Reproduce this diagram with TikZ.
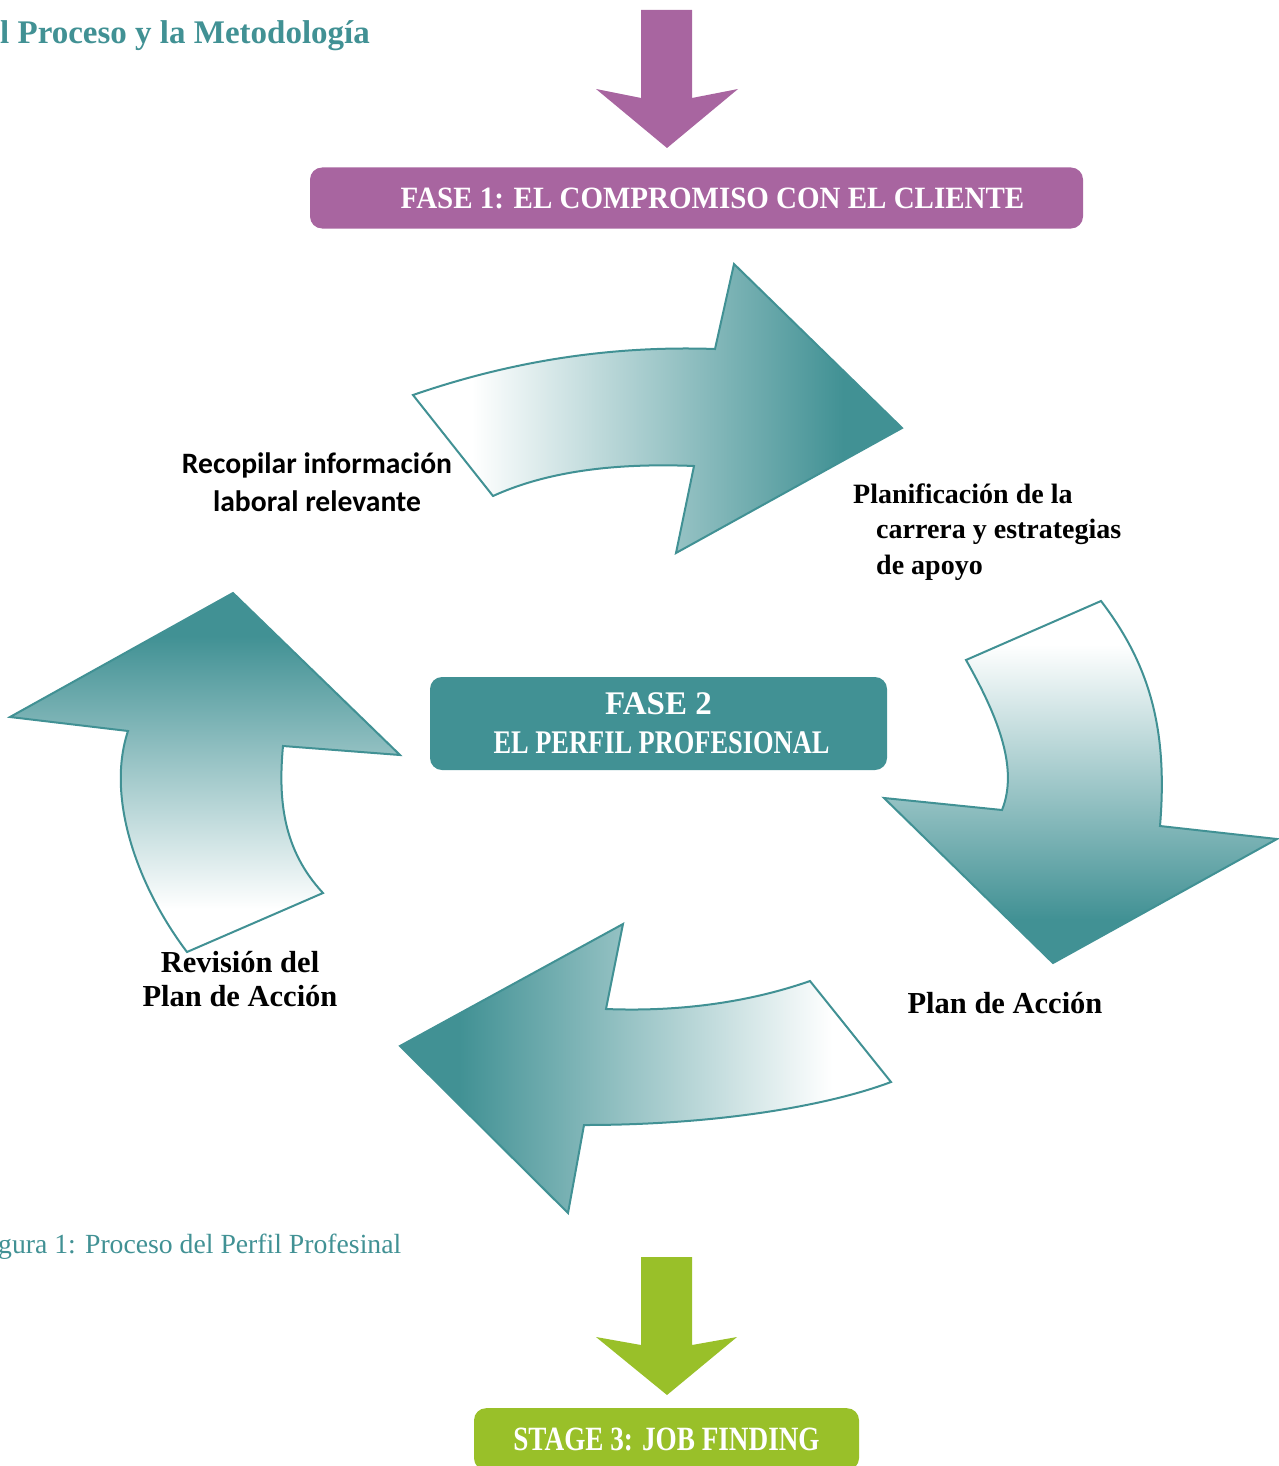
\documentclass[tikz,border=0pt]{standalone}
\usepackage{fontspec}
\setmainfont{Liberation Serif}
\newfontfamily\calibri{Carlito}
\newfontfamily\narrowA[FakeStretch=0.935]{Liberation Serif}
\newfontfamily\narrowB[FakeStretch=0.8]{Liberation Serif}
\usepackage{tikz}
\usetikzlibrary{shapes.geometric}
\definecolor{fasepurple}{RGB}{168,101,160}
\definecolor{faseteal}{RGB}{65,145,148}
\definecolor{fasegreen}{RGB}{153,192,41}
\pgfdeclarehorizontalshading{tealfade}{100bp}{color(0bp)=(white); color(31bp)=(white); color(69bp)=(faseteal); color(100bp)=(faseteal)}

\begin{document}
\begin{tikzpicture}
[x=1pt, y=-1pt,
every node/.style = {align=center, inner sep=0pt}]
\tikzstyle{fasebox} = [rectangle, rounded corners=12pt, text=white, font=\bfseries]
\tikzstyle{cyclearrow} = [draw=faseteal, line width=2pt, shade, shading=tealfade]
\tikzstyle{cyclelabel} = [text=black, font=\fontsize{30.5}{34}\selectfont\bfseries]

\useasboundingbox (0,0) rectangle (1278,1466);

\node[anchor=base west, text=faseteal, font=\fontsize{33}{38}\selectfont\bfseries] (titulo) at (0,44) {l Proceso y la Metodología};

\fill[fasepurple] (641,10) -- (692,10) -- (692,98) -- (738,89) -- (667,148) -- (596,89) -- (641,98) -- cycle;
\node[fasebox, fill=fasepurple, minimum width=773pt, minimum height=61pt, font=\narrowA\fontsize{31}{36}\selectfont\bfseries] (fase1) at (696.5,198) {\hspace*{32pt}FASE 1: EL COMPROMISO CON EL CLIENTE};

\draw[cyclearrow, shading angle=0] (413,395) .. controls (500,365) and (600,345) .. (715,349) -- (734,264) -- (902,428) -- (676,553) -- (694,466) .. controls (620,463) and (550,470) .. (493,496) -- cycle;
\draw[cyclearrow, shading angle=270] (966,660) -- (1101,601) .. controls (1150,665) and (1168,730) .. (1160,826) -- (1277,839) -- (1053,963) -- (884,798) -- (1002,810) .. controls (1018,770) and (1000,720) .. (966,660) -- cycle;
\draw[cyclearrow, shading angle=180] (400,1046) -- (623,924) -- (606,1009) .. controls (680,1012) and (750,1002) .. (810,981) -- (891,1082) .. controls (830,1105) and (720,1125) .. (584,1125) -- (568,1213) -- cycle;
\draw[cyclearrow, shading angle=90] (233,593) -- (400,755) -- (283,746) .. controls (278,800) and (283,850) .. (323,893) -- (187,952) .. controls (140,890) and (105,800) .. (128,731) -- (10,717) -- cycle;

\node[fasebox, fill=faseteal, minimum width=457pt, minimum height=93pt, font=\fontsize{33}{39}\selectfont\bfseries] (fase2) at (658.5,723.5) {FASE 2\\{\narrowB\hspace*{6pt}EL PERFIL PROFESIONAL}};

\node[cyclelabel, font=\calibri\fontsize{29.6}{38.5}\selectfont\bfseries] (recopilar) at (317,482) {Recopilar información\\laboral relevante};
\node[cyclelabel, anchor=west, align=left, font=\fontsize{28}{35.5}\selectfont\bfseries] (planificacion) at (853,532) {Planificación de la\\\hspace*{23pt}carrera y estrategias\\\hspace*{23pt}de apoyo};
\node[cyclelabel] (plan) at (1005,1003.5) {Plan de Acción};
\node[cyclelabel] (revision) at (240,979.5) {Revisión del\\Plan de Acción};

\node[anchor=base west, text=faseteal, font=\fontsize{27.7}{32}\selectfont] (figura) at (-2,1253) {gura 1: Proceso del Perfil Profesinal};

\fill[fasegreen] (641,1257) -- (692,1257) -- (692,1345) -- (737,1337) -- (667,1395) -- (596,1337) -- (641,1345) -- cycle;
\node[fasebox, fill=fasegreen, minimum width=385pt, minimum height=62pt, anchor=north, font=\narrowB\fontsize{34}{38}\selectfont\bfseries] (fase3) at (666.5,1408) {STAGE 3: JOB FINDING};

\end{tikzpicture}
\end{document}
